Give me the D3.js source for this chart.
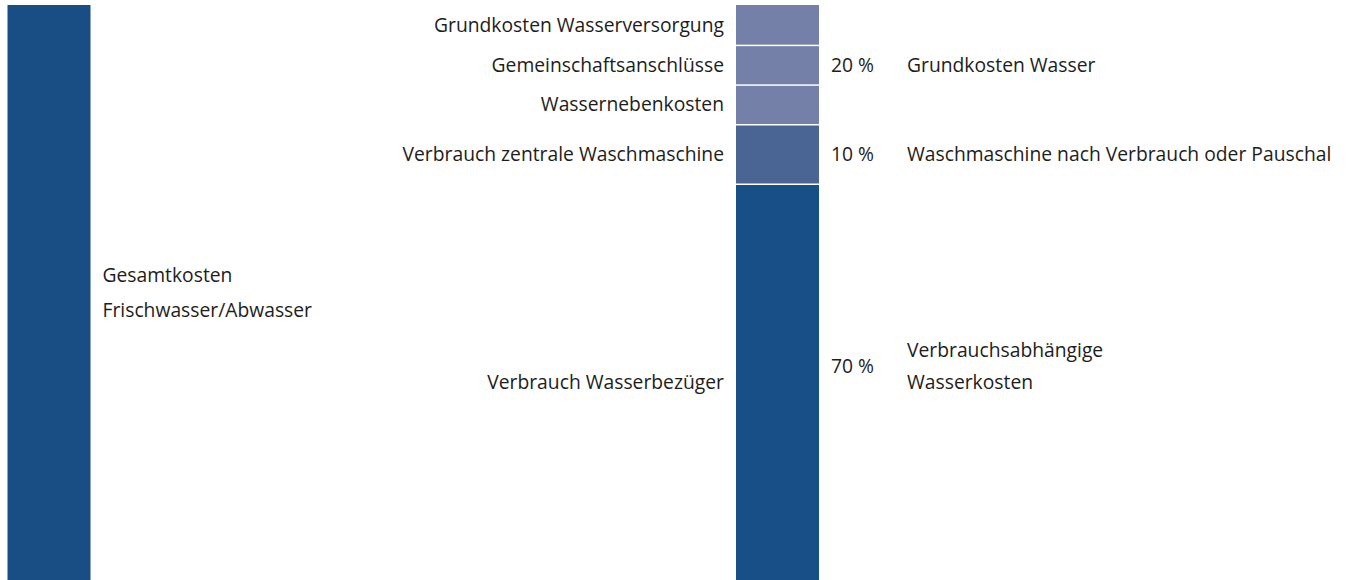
<!DOCTYPE html>
<html>
<head>
<meta charset="utf-8">
<script src="https://cdn.jsdelivr.net/npm/d3@7"></script>
<style>
  html, body { margin: 0; padding: 0; background: #fff; }
  svg { display: block; }
  text { font-family: "Open Sans", sans-serif; font-size: 19.3px; fill: #1d1d1b; }
</style>
</head>
<body>
<svg id="chart" width="1351" height="580"></svg>
<script>
const categories = [
  "Grundkosten Wasserversorgung",
  "Gemeinschaftsanschlüsse",
  "Wassernebenkosten",
  "Verbrauch zentrale Waschmaschine",
  "Verbrauch Wasserbezüger"
];
const shares = [20 / 3, 20 / 3, 20 / 3, 10, 70];
const groupOf = [0, 0, 0, 1, 2];
const groupPercents = [20, 10, 70];
const groupLabels = [
  ["Grundkosten Wasser"],
  ["Waschmaschine nach Verbrauch oder Pauschal"],
  ["Verbrauchsabhängige", "Wasserkosten"]
];
const totalLabel = ["Gesamtkosten", "Frischwasser/Abwasser"];
const totalValue = 100;

const groupColors = ["#7580a9", "#4a6493", "#174f86"];
const totalColor = "#194e85";

const W = 1351, H = 580;
const svg = d3.select("#chart");

// chart continues below the visible area
const y = d3.scaleLinear().domain([0, totalValue]).range([5, 600]);
const visTop = 5, visBottom = H;
const clipMid = (a, b) => (Math.max(a, visTop) + Math.min(b, visBottom)) / 2;

const leftX = 7.5, midX = 736, barW = 83;
const capHalf = 7;
const lineGap = 35;

// total bar
svg.append("rect")
  .attr("x", leftX)
  .attr("y", y(0))
  .attr("width", barW)
  .attr("height", y(totalValue) - y(0))
  .attr("fill", totalColor);

const totalMid = clipMid(y(0), y(totalValue));
svg.append("g")
  .selectAll("text")
  .data(totalLabel)
  .join("text")
  .attr("x", leftX + barW + 12)
  .attr("y", (d, i) => totalMid + capHalf + (i - (totalLabel.length - 1) / 2) * lineGap)
  .text(d => d);

// stacked segments
let acc = 0;
const segs = shares.map((v, i) => {
  const s = { name: categories[i], g: groupOf[i], v0: acc, v1: acc + v, i };
  acc += v;
  return s;
});

svg.append("g")
  .selectAll("rect")
  .data(segs)
  .join("rect")
  .attr("x", midX)
  .attr("y", d => y(d.v0) + (d.i > 0 ? 1.5 : 0))
  .attr("width", barW)
  .attr("height", d => y(d.v1) - y(d.v0) - (d.i > 0 ? 1.5 : 0))
  .attr("fill", d => groupColors[d.g]);

svg.append("g")
  .selectAll("text")
  .data(segs)
  .join("text")
  .attr("x", midX - 12)
  .attr("y", d => clipMid(y(d.v0), y(d.v1)) + capHalf)
  .attr("text-anchor", "end")
  .text(d => d.name);

// groups on the right
const groups = groupPercents.map((p, g) => {
  const members = segs.filter(s => s.g === g);
  return { g, p, v0: members[0].v0, v1: members[members.length - 1].v1, lines: groupLabels[g] };
});

const grp = svg.append("g")
  .selectAll("g")
  .data(groups)
  .join("g")
  .attr("transform", d => {
    let c = clipMid(y(d.v0), y(d.v1));
    if (d.lines.length > 1) c -= 16;
    return `translate(0,${c})`;
  });

grp.append("text")
  .attr("x", midX + barW + 12)
  .attr("y", capHalf)
  .text(d => d.p + "\u00a0%");

grp.selectAll(".lbl")
  .data(d => d.lines.map((t, i) => ({ t, i, n: d.lines.length })))
  .join("text")
  .attr("class", "lbl")
  .attr("x", 907)
  .attr("y", d => capHalf + (d.i - (d.n - 1) / 2) * (lineGap - 3))
  .text(d => d.t);
</script>
</body>
</html>
